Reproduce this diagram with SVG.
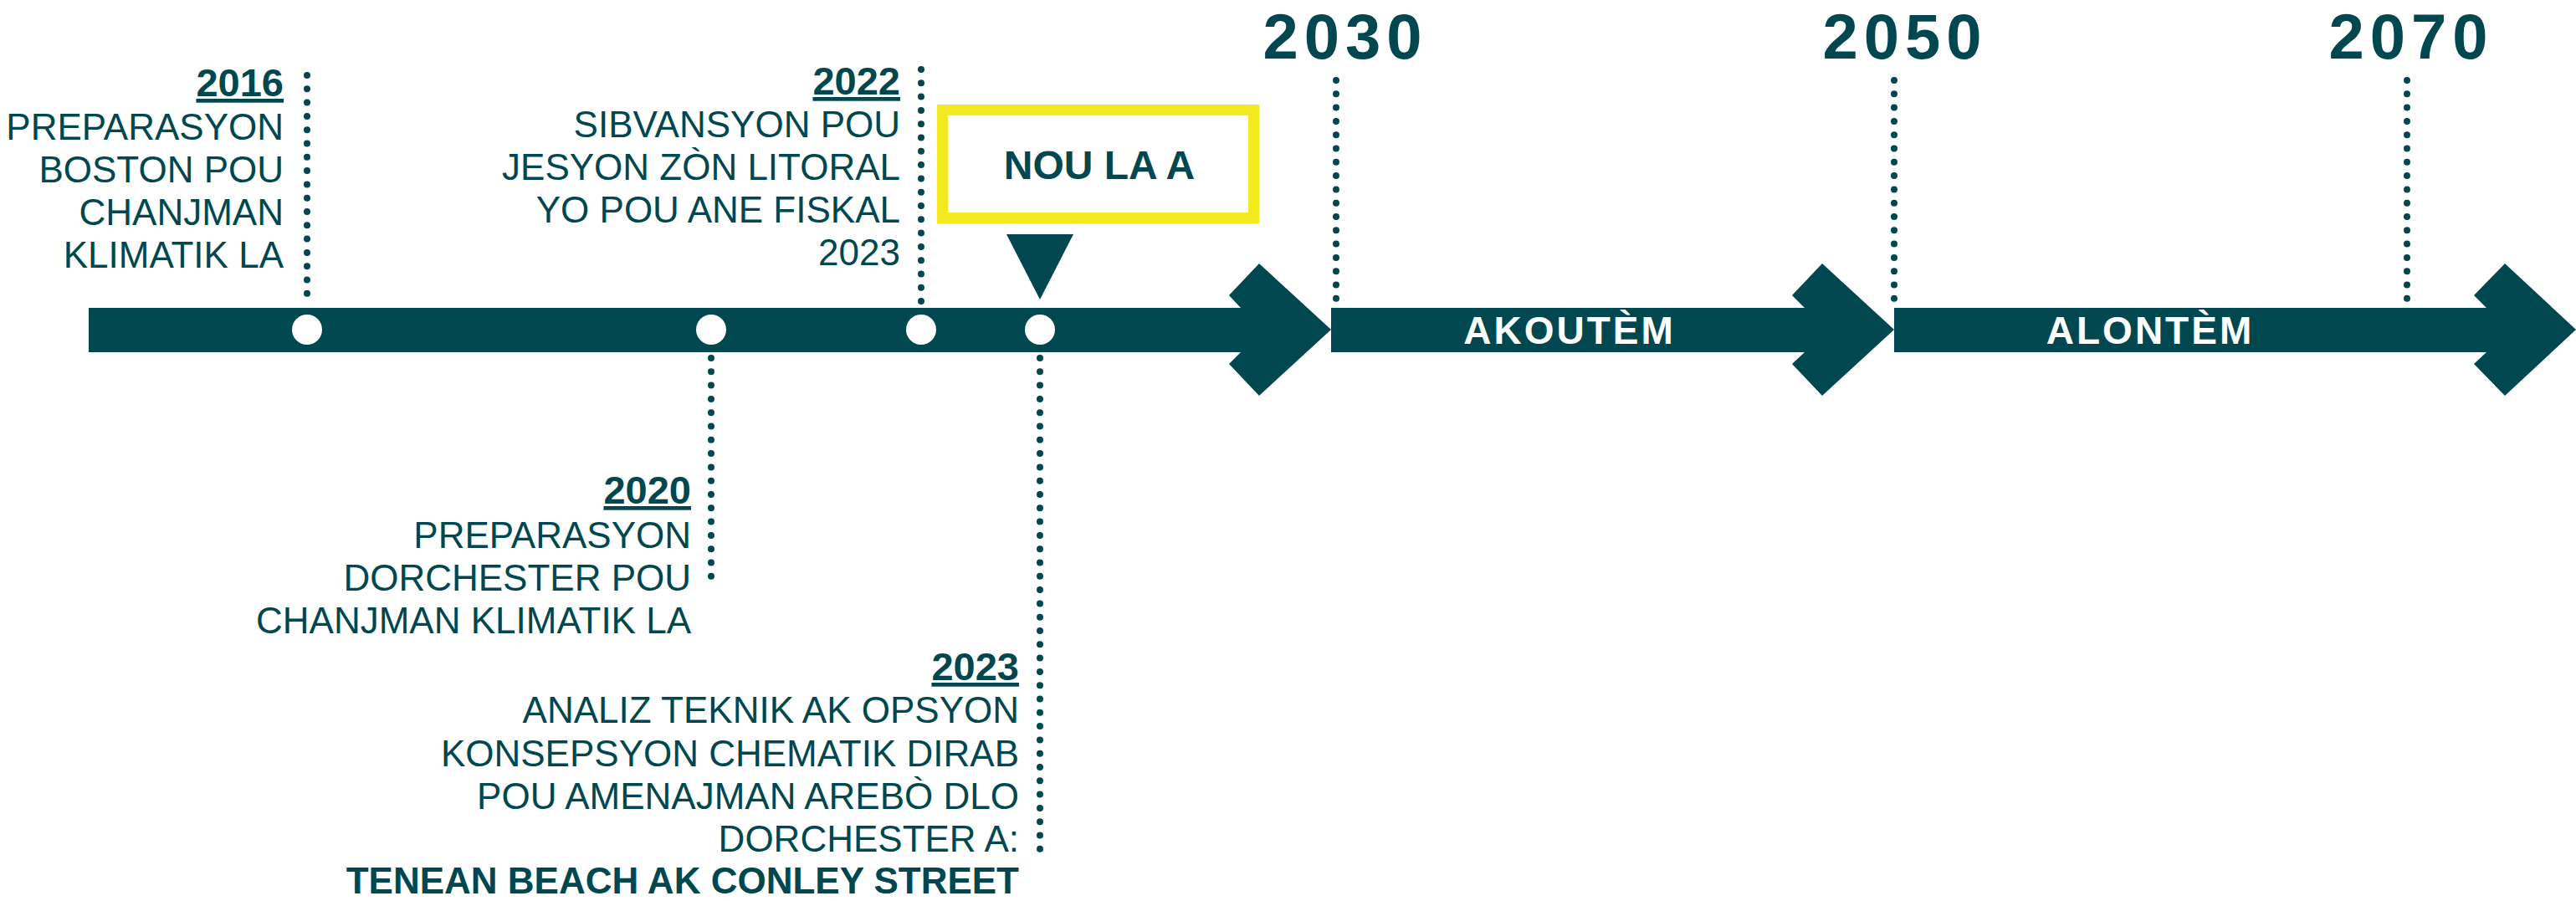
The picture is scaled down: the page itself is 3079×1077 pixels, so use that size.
<svg xmlns="http://www.w3.org/2000/svg" width="3079" height="1077" viewBox="0 0 3079 1077">
<style>
.t{font-family:"Liberation Sans",Arial,sans-serif;fill:#01474F;font-size:44px;text-anchor:end}
.yr{font-weight:bold;font-size:47px;text-decoration:underline}
.b{font-weight:bold}
.big{font-family:"Liberation Sans",Arial,sans-serif;fill:#01474F;font-weight:bold;font-size:76px;letter-spacing:7px;text-anchor:middle}
.lbl{font-family:"Liberation Sans",Arial,sans-serif;fill:#fff;font-weight:bold;font-size:46px;letter-spacing:3px;text-anchor:middle}
.dot{stroke:#01474F;stroke-width:8;stroke-linecap:round;stroke-dasharray:0 16.3;fill:none}
.bar{fill:#01474F}
.pt{fill:#fff}
</style>
<g id="connectors">
<line class="dot" x1="367" y1="90" x2="367" y2="362"/>
<line class="dot" x1="1101" y1="83" x2="1101" y2="362"/>
<line class="dot" x1="850" y1="428" x2="850" y2="698"/>
<line class="dot" x1="1243" y1="428" x2="1243" y2="1018"/>
<line class="dot" x1="1597" y1="96" x2="1597" y2="362"/>
<line class="dot" x1="2264" y1="96" x2="2264" y2="362"/>
<line class="dot" x1="2877" y1="96" x2="2877" y2="362"/>
</g>
<g id="arrow1">
<polygon class="bar" points="106,368 1483,368 1469,353 1505,315 1591,394 1505,473 1469,435 1483,421 106,421"/>
</g>
<g id="arrow2">
<polygon class="bar" points="1591,368 2157,368 2142,353 2178,315 2264,394 2178,473 2142,435 2157,421 1591,421"/>
<text class="lbl" x="1876" y="411">AKOUTÈM</text>
</g>
<g id="arrow3">
<polygon class="bar" points="2264,368 2972,368 2957,353 2994,315 3079,394 2994,473 2957,435 2972,421 2264,421"/>
<text class="lbl" x="2570" y="411">ALONTÈM</text>
</g>
<g id="points">
<circle class="pt" cx="367" cy="394" r="18"/>
<circle class="pt" cx="850" cy="394" r="18"/>
<circle class="pt" cx="1101" cy="394" r="18"/>
<circle class="pt" cx="1243" cy="394" r="18"/>
</g>
<g id="m2016">
<text class="t yr" x="339" y="115">2016</text>
<text class="t" x="339" y="167">PREPARASYON</text>
<text class="t" x="339" y="218">BOSTON POU</text>
<text class="t" x="339" y="269">CHANJMAN</text>
<text class="t" x="339" y="320">KLIMATIK LA</text>
</g>
<g id="m2020">
<text class="t yr" x="826" y="602">2020</text>
<text class="t" x="826" y="655">PREPARASYON</text>
<text class="t" x="826" y="706">DORCHESTER POU</text>
<text class="t" x="826" y="757">CHANJMAN KLIMATIK LA</text>
</g>
<g id="m2022">
<text class="t yr" x="1076" y="113">2022</text>
<text class="t" x="1076" y="164">SIBVANSYON POU</text>
<text class="t" x="1076" y="215">JESYON ZÒN LITORAL</text>
<text class="t" x="1076" y="266">YO POU ANE FISKAL</text>
<text class="t" x="1076" y="317">2023</text>
</g>
<g id="m2023">
<text class="t yr" x="1218" y="813">2023</text>
<text class="t" x="1218" y="864">ANALIZ TEKNIK AK OPSYON</text>
<text class="t" x="1218" y="916">KONSEPSYON CHEMATIK DIRAB</text>
<text class="t" x="1218" y="967">POU AMENAJMAN AREBÒ DLO</text>
<text class="t" x="1218" y="1018">DORCHESTER A:</text>
<text class="t b" x="1218" y="1068">TENEAN BEACH AK CONLEY STREET</text>
</g>
<g id="now">
<rect x="1126.5" y="131.5" width="372" height="129" fill="none" stroke="#F2EA1F" stroke-width="13"/>
<text x="1314" y="214" font-family="Liberation Sans, Arial, sans-serif" font-weight="bold" font-size="48" fill="#01474F" text-anchor="middle">NOU LA A</text>
<polygon class="bar" points="1203,280 1283,280 1243,358"/>
</g>
<g id="y2030"><text class="big" x="1608" y="70">2030</text></g>
<g id="y2050"><text class="big" x="2277" y="70">2050</text></g>
<g id="y2070"><text class="big" x="2882" y="70">2070</text></g>
</svg>
